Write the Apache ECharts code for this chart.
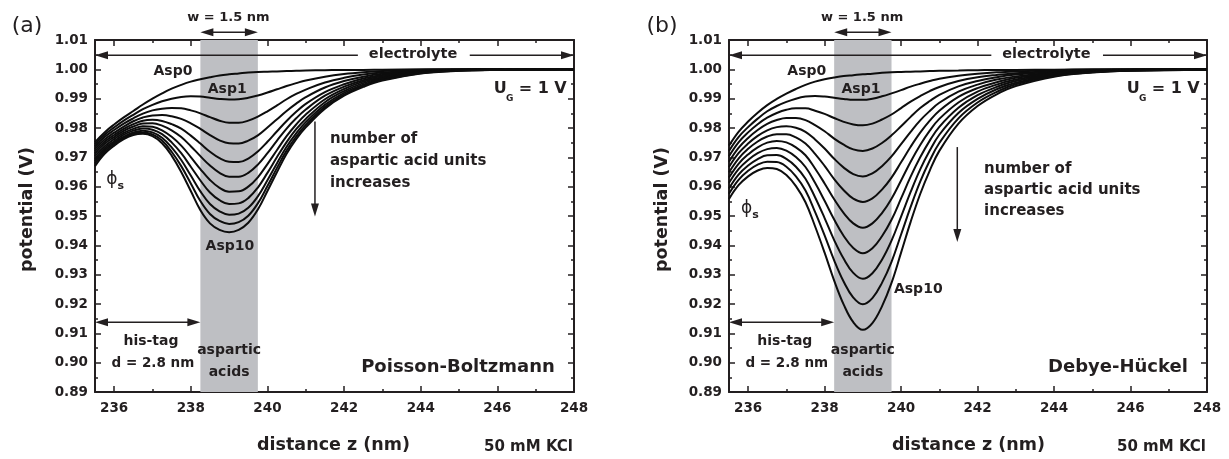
<!DOCTYPE html>
<html><head><meta charset="utf-8">
<script src="https://cdn.jsdelivr.net/npm/echarts@6/dist/echarts.min.js"></script>
<style>html,body{margin:0;padding:0;background:#fff}#c{width:1229px;height:459px}</style>
</head><body><div id="c"></div>
<script>
// distance z (nm) sample points
const zGrid = [235.5, 235.75, 236, 236.25, 236.5, 236.75, 237, 237.25, 237.5, 237.75, 238, 238.25, 238.5, 238.75, 239, 239.25, 239.5, 239.75, 240, 240.25, 240.5, 240.75, 241, 241.5, 242, 242.5, 243, 244, 245, 246, 248];

// (a) Poisson-Boltzmann, potential (V)
const pb0  = [0.9752, 0.9785, 0.9812, 0.9836, 0.9858, 0.9880, 0.9900, 0.9918, 0.9934, 0.9947, 0.9958, 0.9966, 0.9973, 0.9979, 0.9983, 0.9986, 0.9989, 0.9991, 0.9992, 0.9993, 0.9994, 0.9995, 0.9996, 0.9997, 0.9998, 0.9998, 0.9999, 1.0, 1.0, 1.0, 1.0];
const pb1  = [0.9745, 0.9777, 0.9802, 0.9825, 0.9845, 0.9864, 0.9879, 0.9891, 0.9900, 0.9906, 0.9908, 0.9907, 0.9903, 0.9899, 0.9897, 0.9898, 0.9903, 0.9911, 0.9921, 0.9932, 0.9943, 0.9953, 0.9962, 0.9975, 0.9984, 0.9990, 0.9994, 0.9998, 1.0, 1.0, 1.0];
const pb2  = [0.9737, 0.9769, 0.9793, 0.9815, 0.9833, 0.9849, 0.9860, 0.9866, 0.9868, 0.9867, 0.9860, 0.9850, 0.9837, 0.9825, 0.9818, 0.9818, 0.9825, 0.9839, 0.9857, 0.9877, 0.9898, 0.9916, 0.9931, 0.9955, 0.9971, 0.9982, 0.9989, 0.9996, 0.9999, 1.0, 1.0];
const pb3  = [0.9729, 0.9761, 0.9784, 0.9805, 0.9823, 0.9836, 0.9843, 0.9844, 0.9840, 0.9831, 0.9816, 0.9797, 0.9776, 0.9758, 0.9748, 0.9747, 0.9757, 0.9775, 0.9802, 0.9830, 0.9858, 0.9883, 0.9905, 0.9938, 0.9960, 0.9975, 0.9985, 0.9994, 0.9999, 1.0, 1.0];
const pb4  = [0.9721, 0.9753, 0.9776, 0.9797, 0.9813, 0.9825, 0.9828, 0.9824, 0.9813, 0.9798, 0.9774, 0.9747, 0.9719, 0.9697, 0.9685, 0.9684, 0.9696, 0.9720, 0.9753, 0.9789, 0.9824, 0.9855, 0.9882, 0.9922, 0.9949, 0.9969, 0.9981, 0.9993, 0.9998, 1.0, 1.0];
const pb5  = [0.9713, 0.9746, 0.9769, 0.9790, 0.9805, 0.9815, 0.9816, 0.9808, 0.9792, 0.9769, 0.9738, 0.9704, 0.9672, 0.9647, 0.9634, 0.9634, 0.9647, 0.9675, 0.9714, 0.9757, 0.9798, 0.9833, 0.9863, 0.9910, 0.9941, 0.9963, 0.9977, 0.9992, 0.9998, 0.9999, 1.0];
const pb6  = [0.9704, 0.9738, 0.9762, 0.9783, 0.9797, 0.9806, 0.9804, 0.9792, 0.9770, 0.9740, 0.9701, 0.9660, 0.9623, 0.9596, 0.9583, 0.9584, 0.9600, 0.9632, 0.9677, 0.9725, 0.9772, 0.9812, 0.9846, 0.9898, 0.9933, 0.9958, 0.9973, 0.9990, 0.9997, 0.9999, 1.0];
const pb7  = [0.9695, 0.9731, 0.9755, 0.9777, 0.9791, 0.9798, 0.9794, 0.9779, 0.9751, 0.9714, 0.9668, 0.9621, 0.9580, 0.9554, 0.9541, 0.9543, 0.9561, 0.9597, 0.9647, 0.9701, 0.9752, 0.9796, 0.9831, 0.9888, 0.9926, 0.9953, 0.9970, 0.9989, 0.9997, 0.9999, 1.0];
const pb8  = [0.9687, 0.9725, 0.9750, 0.9771, 0.9785, 0.9791, 0.9785, 0.9767, 0.9734, 0.9691, 0.9638, 0.9584, 0.9541, 0.9516, 0.9504, 0.9508, 0.9528, 0.9567, 0.9622, 0.9680, 0.9736, 0.9782, 0.9820, 0.9879, 0.9920, 0.9948, 0.9967, 0.9988, 0.9996, 0.9999, 1.0];
const pb9  = [0.9679, 0.9718, 0.9745, 0.9766, 0.9781, 0.9785, 0.9778, 0.9757, 0.9719, 0.9670, 0.9611, 0.9551, 0.9507, 0.9483, 0.9473, 0.9479, 0.9501, 0.9543, 0.9602, 0.9664, 0.9723, 0.9771, 0.9810, 0.9872, 0.9914, 0.9944, 0.9964, 0.9987, 0.9996, 0.9998, 1.0];
const pb10 = [0.9670, 0.9712, 0.9740, 0.9762, 0.9776, 0.9780, 0.9772, 0.9748, 0.9706, 0.9650, 0.9585, 0.9520, 0.9475, 0.9453, 0.9445, 0.9453, 0.9477, 0.9522, 0.9585, 0.9650, 0.9712, 0.9762, 0.9802, 0.9866, 0.9910, 0.9940, 0.9962, 0.9986, 0.9995, 0.9998, 1.0];

// (b) Debye-Hückel, potential (V)
const dh0  = [0.9740, 0.9787, 0.9822, 0.9852, 0.9878, 0.9899, 0.9917, 0.9933, 0.9947, 0.9958, 0.9966, 0.9972, 0.9977, 0.9980, 0.9983, 0.9985, 0.9988, 0.9990, 0.9991, 0.9992, 0.9993, 0.9994, 0.9995, 0.9996, 0.9997, 0.9998, 0.9998, 0.9999, 1.0, 1.0, 1.0];
const dh1  = [0.9722, 0.9769, 0.9803, 0.9832, 0.9857, 0.9875, 0.9889, 0.9900, 0.9907, 0.9909, 0.9907, 0.9903, 0.9899, 0.9896, 0.9896, 0.9900, 0.9908, 0.9918, 0.9929, 0.9941, 0.9951, 0.9960, 0.9968, 0.9978, 0.9985, 0.9990, 0.9993, 0.9997, 0.9999, 1.0, 1.0];
const dh2  = [0.9704, 0.9751, 0.9785, 0.9813, 0.9835, 0.9851, 0.9862, 0.9867, 0.9867, 0.9859, 0.9848, 0.9834, 0.9821, 0.9812, 0.9809, 0.9815, 0.9829, 0.9846, 0.9868, 0.9890, 0.9909, 0.9926, 0.9940, 0.9960, 0.9973, 0.9981, 0.9987, 0.9994, 0.9998, 0.9999, 1.0];
const dh3  = [0.9685, 0.9732, 0.9766, 0.9793, 0.9814, 0.9827, 0.9834, 0.9834, 0.9827, 0.9810, 0.9789, 0.9764, 0.9743, 0.9727, 0.9722, 0.9730, 0.9749, 0.9775, 0.9806, 0.9838, 0.9868, 0.9892, 0.9913, 0.9942, 0.9960, 0.9973, 0.9982, 0.9992, 0.9997, 0.9999, 1.0];
const dh4  = [0.9667, 0.9714, 0.9747, 0.9773, 0.9792, 0.9803, 0.9806, 0.9801, 0.9787, 0.9761, 0.9730, 0.9695, 0.9665, 0.9643, 0.9635, 0.9645, 0.9670, 0.9703, 0.9745, 0.9787, 0.9826, 0.9858, 0.9886, 0.9924, 0.9948, 0.9965, 0.9976, 0.9989, 0.9996, 0.9998, 1.0];
const dh5  = [0.9649, 0.9696, 0.9729, 0.9754, 0.9771, 0.9779, 0.9779, 0.9768, 0.9747, 0.9712, 0.9671, 0.9626, 0.9588, 0.9559, 0.9548, 0.9560, 0.9590, 0.9631, 0.9683, 0.9736, 0.9784, 0.9825, 0.9859, 0.9906, 0.9936, 0.9956, 0.9971, 0.9987, 0.9995, 0.9998, 0.9999];
const dh6  = [0.9631, 0.9678, 0.9710, 0.9734, 0.9750, 0.9756, 0.9751, 0.9734, 0.9707, 0.9662, 0.9611, 0.9557, 0.9510, 0.9475, 0.9460, 0.9475, 0.9510, 0.9559, 0.9621, 0.9685, 0.9742, 0.9791, 0.9831, 0.9887, 0.9924, 0.9948, 0.9965, 0.9985, 0.9993, 0.9997, 0.9999];
const dh7  = [0.9613, 0.9660, 0.9691, 0.9714, 0.9728, 0.9732, 0.9723, 0.9701, 0.9667, 0.9613, 0.9552, 0.9488, 0.9432, 0.9391, 0.9373, 0.9390, 0.9431, 0.9487, 0.9560, 0.9634, 0.9700, 0.9757, 0.9804, 0.9869, 0.9912, 0.9940, 0.9960, 0.9982, 0.9992, 0.9997, 0.9999];
const dh8  = [0.9594, 0.9641, 0.9672, 0.9694, 0.9707, 0.9708, 0.9695, 0.9668, 0.9627, 0.9564, 0.9493, 0.9418, 0.9354, 0.9306, 0.9286, 0.9305, 0.9351, 0.9416, 0.9498, 0.9582, 0.9659, 0.9723, 0.9777, 0.9851, 0.9899, 0.9932, 0.9954, 0.9980, 0.9991, 0.9996, 0.9999];
const dh9  = [0.9576, 0.9623, 0.9654, 0.9675, 0.9685, 0.9684, 0.9668, 0.9635, 0.9587, 0.9514, 0.9434, 0.9349, 0.9276, 0.9222, 0.9199, 0.9220, 0.9272, 0.9344, 0.9437, 0.9531, 0.9617, 0.9689, 0.9749, 0.9833, 0.9887, 0.9923, 0.9949, 0.9977, 0.9990, 0.9996, 0.9999];
const dh10 = [0.9558, 0.9605, 0.9635, 0.9655, 0.9664, 0.9660, 0.9640, 0.9602, 0.9547, 0.9465, 0.9375, 0.9280, 0.9198, 0.9138, 0.9112, 0.9135, 0.9192, 0.9272, 0.9375, 0.9480, 0.9575, 0.9655, 0.9722, 0.9815, 0.9875, 0.9915, 0.9943, 0.9975, 0.9989, 0.9995, 0.9999];

const aspNames = ['Asp0','Asp1','Asp2','Asp3','Asp4','Asp5','Asp6','Asp7','Asp8','Asp9','Asp10'];
const pbSets = [pb0,pb1,pb2,pb3,pb4,pb5,pb6,pb7,pb8,pb9,pb10];
const dhSets = [dh0,dh1,dh2,dh3,dh4,dh5,dh6,dh7,dh8,dh9,dh10];

// ticks
const xMajor = [236, 238, 240, 242, 244, 246, 248];
const xMinor = [237, 239, 241, 243, 245, 247];
const yMajor = [0.89, 0.90, 0.91, 0.92, 0.93, 0.94, 0.95, 0.96, 0.97, 0.98, 0.99, 1.00, 1.01];
const yMinor = [0.895, 0.905, 0.915, 0.925, 0.935, 0.945, 0.955, 0.965, 0.975, 0.985, 0.995, 1.005];
// aspartic-acid block (nm)
const aspRegion = [238.25, 239.75];

const FONT = '"DejaVu Sans", sans-serif';
const INK = '#231f20';
const chart = echarts.init(document.getElementById('c'), null, {renderer: 'canvas'});

function xAxes(g) {
  const base = {gridIndex: g, type: 'value', min: 235.5, max: 248, splitLine: {show: false}};
  const lineOn = {show: true, onZero: false, lineStyle: {color: INK, width: 2}};
  const tk = (vals, len) => ({show: true, inside: true, length: len, customValues: vals, lineStyle: {color: INK, width: 1.5}});
  return [
    Object.assign({}, base, {position: 'bottom', axisLine: lineOn, axisTick: tk(xMajor, 6),
      axisLabel: {show: true, customValues: xMajor, margin: 9, color: INK, fontFamily: FONT, fontWeight: 'bold', fontSize: 13.5}}),
    Object.assign({}, base, {position: 'bottom', axisLine: {show: false, onZero: false}, axisTick: tk(xMinor, 3), axisLabel: {show: false}}),
    Object.assign({}, base, {position: 'top', axisLine: lineOn, axisTick: tk(xMajor, 6), axisLabel: {show: false}}),
    Object.assign({}, base, {position: 'top', axisLine: {show: false, onZero: false}, axisTick: tk(xMinor, 3), axisLabel: {show: false}})
  ];
}
function yAxes(g) {
  const base = {gridIndex: g, type: 'value', min: 0.89, max: 1.01, splitLine: {show: false}};
  const lineOn = {show: true, onZero: false, lineStyle: {color: INK, width: 2}};
  const tk = (vals, len) => ({show: true, inside: true, length: len, customValues: vals, lineStyle: {color: INK, width: 1.5}});
  return [
    Object.assign({}, base, {position: 'left', axisLine: lineOn, axisTick: tk(yMajor, 6),
      axisLabel: {show: true, customValues: yMajor, margin: 7, color: INK, fontFamily: FONT, fontWeight: 'bold', fontSize: 13.5,
        formatter: v => Number(v).toFixed(2)}}),
    Object.assign({}, base, {position: 'left', axisLine: {show: false, onZero: false}, axisTick: tk(yMinor, 3), axisLabel: {show: false}}),
    Object.assign({}, base, {position: 'right', axisLine: lineOn, axisTick: tk(yMajor, 6), axisLabel: {show: false}}),
    Object.assign({}, base, {position: 'right', axisLine: {show: false, onZero: false}, axisTick: tk(yMinor, 3), axisLabel: {show: false}})
  ];
}

const series = [];
[pbSets, dhSets].forEach((sets, g) => {
  series.push({
    type: 'line', name: 'region' + g, xAxisIndex: g * 4, yAxisIndex: g * 4, data: [], z: 1, silent: true,
    markArea: {silent: true, itemStyle: {color: '#bebfc3'}, data: [[{xAxis: aspRegion[0], yAxis: 0.89}, {xAxis: aspRegion[1], yAxis: 1.01}]]}
  });
  sets.forEach((arr, i) => {
    series.push({
      type: 'line', name: aspNames[i], xAxisIndex: g * 4, yAxisIndex: g * 4, z: 3,
      data: zGrid.map((z, k) => [z, arr[k]]), smooth: 0.4, showSymbol: false, symbol: 'none',
      lineStyle: {color: '#0d0d0d', width: 2}, silent: true
    });
  });
});

chart.setOption({
  animation: false,
  backgroundColor: '#ffffff',
  grid: [
    {left: 95, top: 40, width: 479, height: 352, containLabel: false},
    {left: 729, top: 40, width: 478, height: 352, containLabel: false}
  ],
  xAxis: xAxes(0).concat(xAxes(1)),
  yAxis: yAxes(0).concat(yAxes(1)),
  series: series
});

// ---- annotations (positions in data coordinates, converted through the axes) ----
const panels = [
  {name: 'Poisson-Boltzmann', asp10: [239.02, 0.9396], asp10Align: 'center',
   arrowX: 241.24, arrowY: [0.9822, 0.9498], textX: 241.63, textY: [0.9763, 0.9688, 0.9613],
   phi: [235.94, 0.9623], letter: '(a)', letterPx: [27, 26], yTitlePx: [27.5, 209.5], xTitlePx: [333.5, 445], kclPx: [573, 447]},
  {name: 'Debye-Hückel', asp10: [240.45, 0.9251], asp10Align: 'center',
   arrowX: 241.47, arrowY: [0.9735, 0.9411], textX: 242.17, textY: [0.9660, 0.9589, 0.9517],
   phi: [235.96, 0.9524], letter: '(b)', letterPx: [662, 26], yTitlePx: [662.5, 209.5], xTitlePx: [968.5, 445], kclPx: [1206, 447]}
];

function drawAnnotations() {
  const els = [];
  const text = (p, t, font, align, extra) => els.push({type: 'text', x: p[0], y: p[1], z: 100, silent: true,
    rotation: (extra && extra.rotation) || 0,
    style: {text: t, font: font, fill: INK, align: align || 'center', verticalAlign: 'middle', textAlign: align || 'center', textVerticalAlign: 'middle'}});
  const seg = (a, b, w) => els.push({type: 'line', z: 100, silent: true, shape: {x1: a[0], y1: a[1], x2: b[0], y2: b[1]}, style: {stroke: INK, lineWidth: w || 1.5}});
  const head = (tip, from, L, W) => {
    L = L || 13; W = W || 4;
    const dx = tip[0] - from[0], dy = tip[1] - from[1], len = Math.hypot(dx, dy);
    const ux = dx / len, uy = dy / len, bx = tip[0] - ux * L, by = tip[1] - uy * L;
    els.push({type: 'polygon', z: 100, silent: true, shape: {points: [tip, [bx - uy * W, by + ux * W], [bx + uy * W, by - ux * W]]}, style: {fill: INK}});
    return [bx + ux * 2, by + uy * 2];
  };
  const arrow = (from, to, both) => {
    const end = head(to, from);
    const start = both ? head(from, to) : from;
    seg(start, end);
  };
  const B = 'bold ';
  panels.forEach((p, g) => {
    const P = (x, y) => chart.convertToPixel({xAxisIndex: g * 4, yAxisIndex: g * 4}, [x, y]);
    // w = 1.5 nm
    arrow(P(aspRegion[0], 1.0126), P(aspRegion[1], 1.0126), true);
    text(P(238.98, 1.0177), 'w = 1.5 nm', B + '13px ' + FONT);
    // electrolyte
    arrow(P(242.36, 1.0048), P(235.5, 1.0048));
    arrow(P(245.28, 1.0048), P(248, 1.0048));
    text(P(243.80, 1.0050), 'electrolyte', B + '14.5px ' + FONT);
    // curve labels
    text(P(237.535, 0.9994), 'Asp0', B + '14px ' + FONT);
    text(P(238.95, 0.9933), 'Asp1', B + '14px ' + FONT);
    text(P(p.asp10[0], p.asp10[1]), 'Asp10', B + '14px ' + FONT, p.asp10Align);
    // U_G = 1 V
    const ug = P(247.81, 0.9935);
    text(ug, '= 1 V', B + '16px ' + FONT, 'right');
    text([ug[0] - 57, ug[1] + 10], 'G', B + '9px ' + FONT);
    text([ug[0] - 60, ug[1]], 'U', B + '16px ' + FONT, 'right');
    // direction arrow + text
    arrow(P(p.arrowX, p.arrowY[0]), P(p.arrowX, p.arrowY[1]));
    ['number of', 'aspartic acid units', 'increases'].forEach((t, i) => text(P(p.textX, p.textY[i]), t, B + '15px ' + FONT, 'left'));
    // phi_s
    const ph = P(p.phi[0], p.phi[1]);
    text(ph, '\u03D5', '17px ' + FONT);
    text([ph[0] + 9, ph[1] + 6], 's', B + '11px ' + FONT);
    // his-tag
    arrow(P(235.5, 0.9138), P(aspRegion[0], 0.9138), true);
    text(P(236.96, 0.9072), 'his-tag', B + '14px ' + FONT);
    text(P(237.01, 0.8997), 'd = 2.8 nm', B + '13.5px ' + FONT);
    text(P(239.0, 0.9043), 'aspartic', B + '14px ' + FONT);
    text(P(239.0, 0.8968), 'acids', B + '14px ' + FONT);
    // model name
    text(P(247.5, 0.8985), p.name, B + '18px ' + FONT, 'right');
    // layout texts
    text(p.letterPx, p.letter, '22px ' + FONT);
    text(p.yTitlePx, 'potential (V)', B + '17.5px ' + FONT, 'center', {rotation: Math.PI / 2});
    text(p.xTitlePx, 'distance z (nm)', B + '17.5px ' + FONT);
    text(p.kclPx, '50 mM KCl', B + '15px ' + FONT, 'right');
  });
  chart.setOption({graphic: els});
}
drawAnnotations();
</script>
</body></html>
